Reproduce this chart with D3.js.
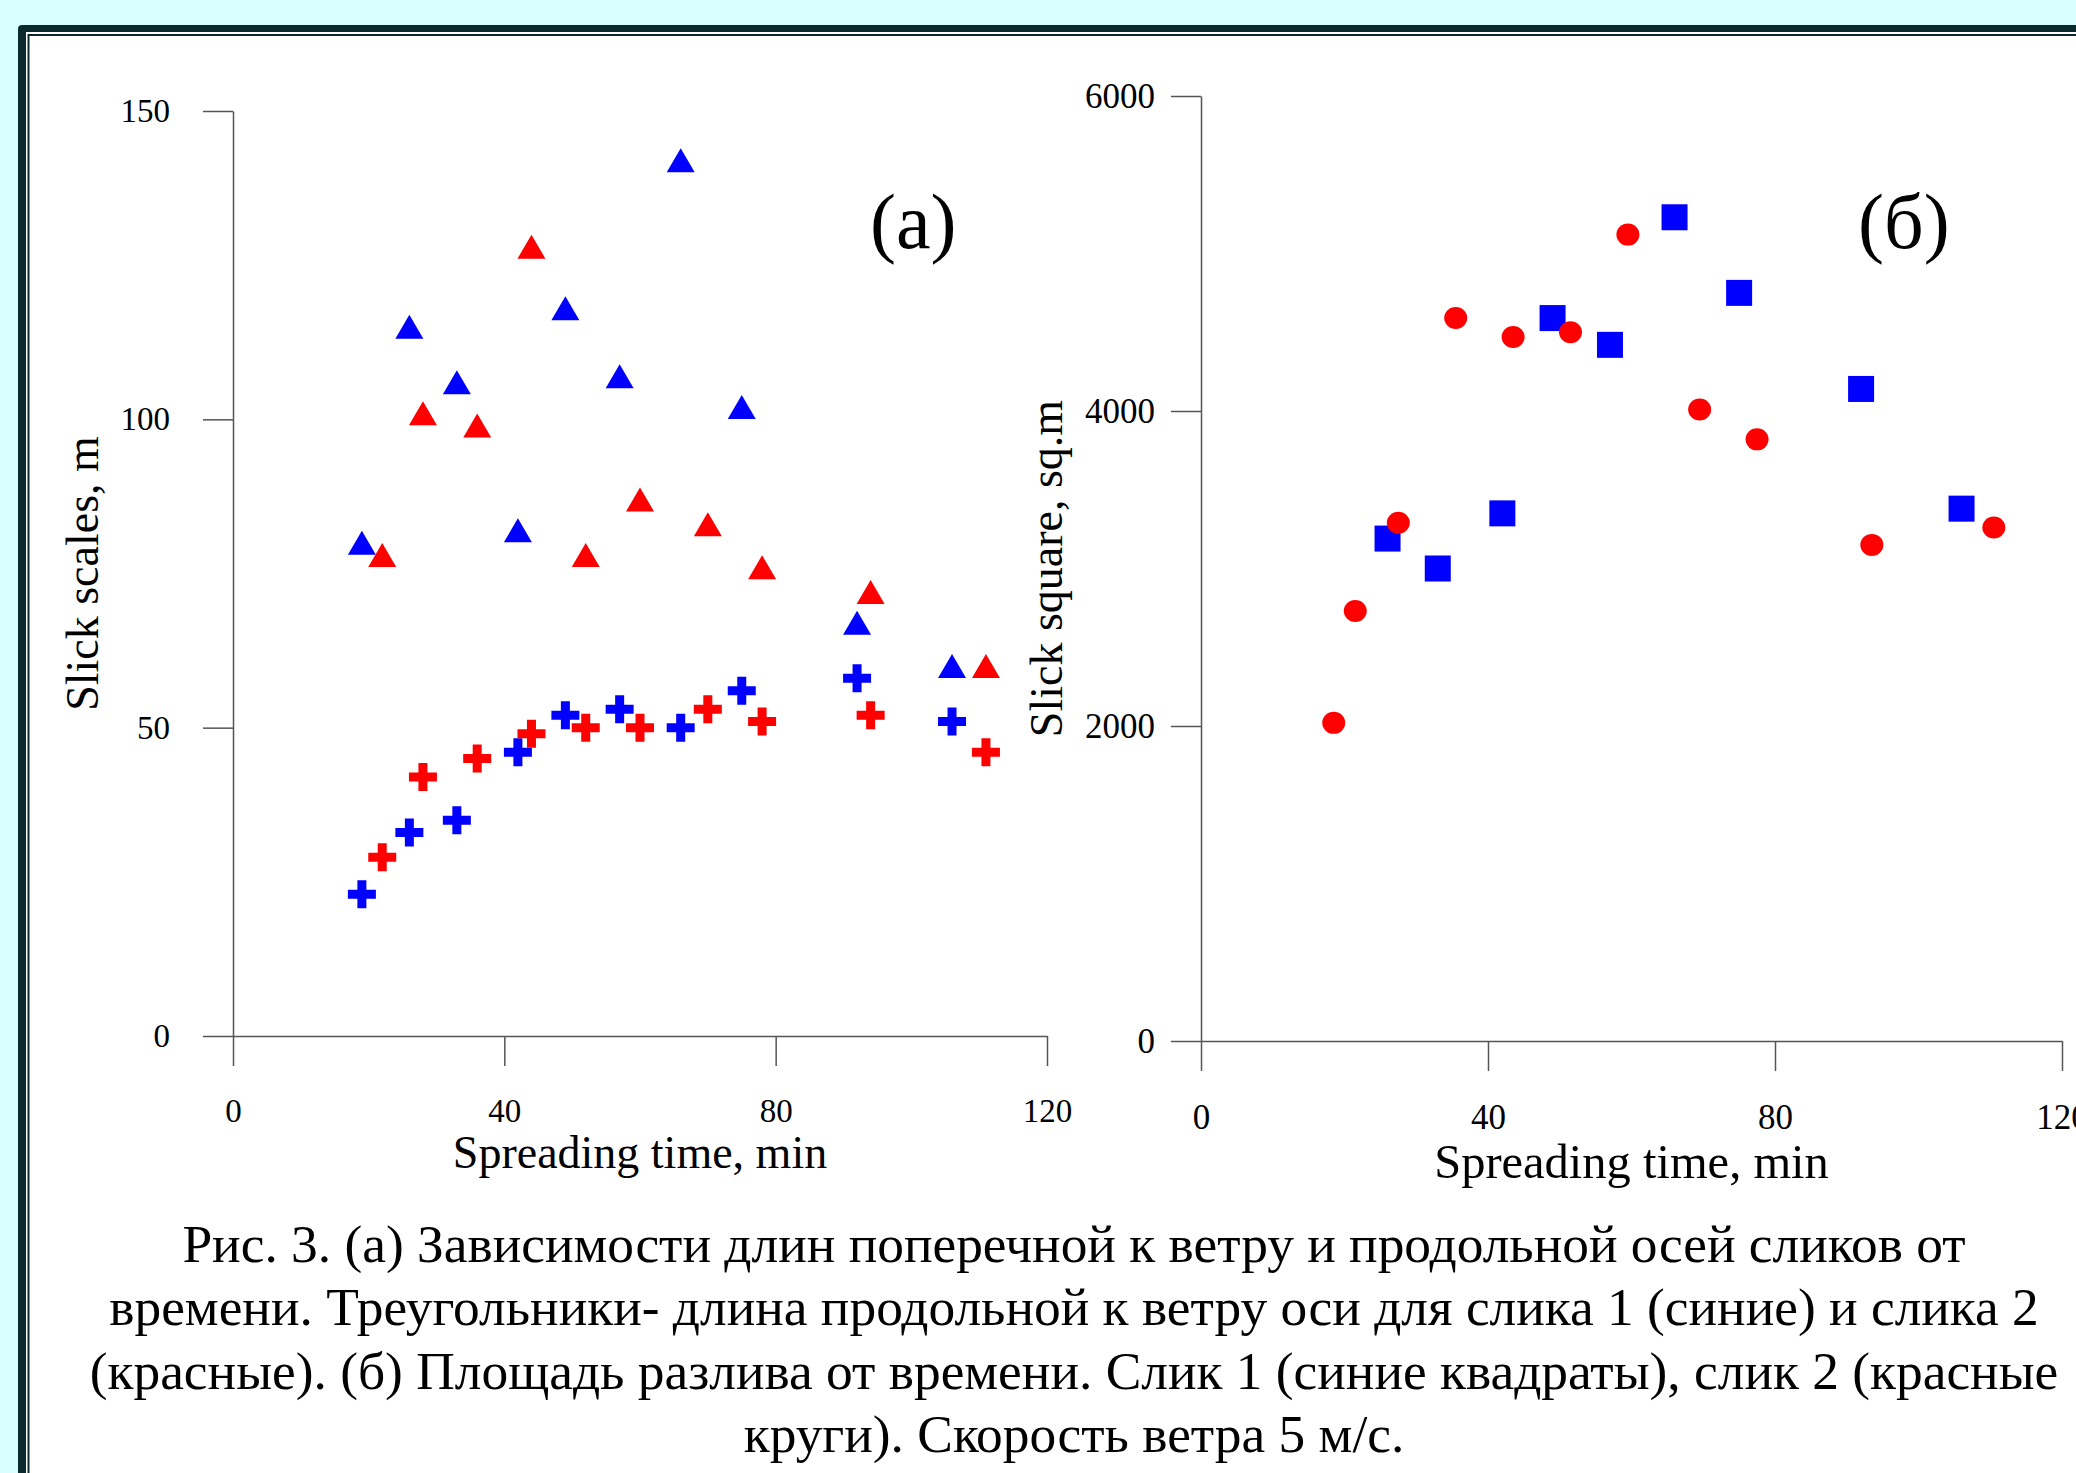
<!DOCTYPE html>
<html>
<head>
<meta charset="utf-8">
<script src="https://cdn.jsdelivr.net/npm/d3@7"></script>
<style>
  body { margin: 0; background: #d8ffff; }
  svg { display: block; }
  text { font-family: "Liberation Serif", "Times New Roman", serif; fill: #000; }
  .axis path, .axis line { stroke: #555; stroke-width: 1.5; }
</style>
</head>
<body>
<div id="chart"></div>
<script>
// Data
// (a) slick scales vs spreading time
const timeBlue = [19, 26, 33, 42, 49, 57, 66, 75, 92, 106];
const timeRed = [22, 28, 36, 44, 52, 60, 70, 78, 94, 111];
const triBlue = [80, 115, 106, 82, 118, 107, 142, 102, 67, 60];   // along-wind axis, slick 1
const triRed = [78, 101, 99, 128, 78, 87, 83, 76, 72, 60];        // along-wind axis, slick 2
const crossBlue = [23, 33, 35, 46, 52, 53, 50, 56, 58, 51];       // cross-wind axis, slick 1
const crossRed = [29, 42, 45, 49, 50, 50, 53, 51, 52, 46];        // cross-wind axis, slick 2

// (б) slick square vs spreading time
const squareTime = [26, 33, 42, 49, 57, 66, 75, 92, 106];
const squareArea = [3190, 3000, 3350, 4590, 4420, 5230, 4750, 4140, 3380];
const circleTime = [18.5, 21.5, 27.5, 35.5, 43.5, 51.5, 59.5, 69.5, 77.5, 93.5, 110.5];
const circleArea = [2020, 2730, 3290, 4590, 4470, 4500, 5120, 4010, 3820, 3150, 3260];

const xTicks = [0, 40, 80, 120];
const yTicksA = [0, 50, 100, 150];
const yTicksB = [0, 2000, 4000, 6000];

const caption = [
  "Рис. 3. (а) Зависимости длин поперечной к ветру и продольной осей сликов от",
  "времени. Треугольники- длина продольной к ветру оси для слика 1 (синие) и слика 2",
  "(красные). (б) Площадь разлива от времени. Слик 1 (синие квадраты), слик 2 (красные",
  "круги). Скорость ветра 5 м/с."
];

const width = 2076, height = 1473;
const BLUE = "#0000ff", RED = "#ff0000";

const svg = d3.select("#chart")
  .append("svg")
  .attr("width", width)
  .attr("height", height);

// Frame
svg.append("rect").attr("x", 18).attr("y", 25).attr("width", 2200).attr("height", 1600)
  .attr("rx", 4).attr("fill", "#0b2a2e");
svg.append("rect").attr("x", 26).attr("y", 32).attr("width", 2200).attr("height", 1600)
  .attr("fill", "#fff");
svg.append("rect").attr("x", 28.5).attr("y", 35).attr("width", 2200).attr("height", 1600)
  .attr("fill", "#fff").attr("stroke", "#0b2a2e").attr("stroke-width", 2);

// Scales
const xA = d3.scaleLinear().domain([0, 120]).range([233, 1047]);
const yA = d3.scaleLinear().domain([0, 150]).range([1036, 111]);
const xB = d3.scaleLinear().domain([0, 120]).range([1201, 2062]);
const yB = d3.scaleLinear().domain([0, 6000]).range([1041, 96]);

function drawAxes(x, y, yTicks, yTitle, opt) {
  const x0 = x.range()[0], y0 = y.range()[0];
  svg.append("g")
    .attr("class", "axis")
    .attr("transform", `translate(0,${y0})`)
    .call(d3.axisBottom(x).tickValues(xTicks).tickSize(30).tickSizeOuter(0).tickPadding(33).tickFormat(d3.format("d")))
    .selectAll("text").style("font-size", opt.tickFont + "px");
  svg.append("g")
    .attr("class", "axis")
    .attr("transform", `translate(${x0},0)`)
    .call(d3.axisLeft(y).tickValues(yTicks).tickSize(30).tickSizeOuter(0).tickPadding(opt.yPad).tickFormat(d3.format("d")))
    .selectAll("text").style("font-size", opt.tickFont + "px");

  svg.append("text")
    .attr("x", (x.range()[0] + x.range()[1]) / 2)
    .attr("y", y0 + opt.xTitleOff)
    .attr("text-anchor", "middle")
    .style("font-size", opt.xTitleFont + "px")
    .text("Spreading time, min");

  const cy = (y.range()[0] + y.range()[1]) / 2;
  svg.append("text")
    .attr("transform", `translate(${x0 - opt.yTitleOff},${cy}) rotate(-90)`)
    .attr("text-anchor", "middle")
    .style("font-size", "46px")
    .text(yTitle);
}

drawAxes(xA, yA, yTicksA, "Slick scales, m",
  { tickFont: 33, yPad: 33, xTitleOff: 132, xTitleFont: 46, yTitleOff: 135 });
drawAxes(xB, yB, yTicksB, "Slick square, sq.m",
  { tickFont: 35, yPad: 16, xTitleOff: 137, xTitleFont: 48.5, yTitleOff: 139 });

// Markers
function triPath(w, h) {
  return `M0,${-h / 2}L${w / 2},${h / 2}L${-w / 2},${h / 2}Z`;
}
function crossPath(s, t) {
  const a = s / 2, b = t / 2;
  return `M${-b},${-a}H${b}V${-b}H${a}V${b}H${b}V${a}H${-b}V${b}H${-a}V${-b}H${-b}Z`;
}

function drawPoints(x, y, xs, ys, color, path) {
  svg.append("g")
    .selectAll("path")
    .data(xs.map((d, i) => [d, ys[i]]))
    .join("path")
    .attr("transform", d => `translate(${x(d[0])},${y(d[1])})`)
    .attr("d", path)
    .attr("fill", color);
}

drawPoints(xA, yA, timeBlue, triBlue, BLUE, triPath(28, 24));
drawPoints(xA, yA, timeRed, triRed, RED, triPath(28, 24));
drawPoints(xA, yA, timeBlue, crossBlue, BLUE, crossPath(28, 9));
drawPoints(xA, yA, timeRed, crossRed, RED, crossPath(28, 9));

// (б) squares and circles
svg.append("g")
  .selectAll("rect")
  .data(squareTime.map((d, i) => [d, squareArea[i]]))
  .join("rect")
  .attr("x", d => xB(d[0]) - 13)
  .attr("y", d => yB(d[1]) - 13)
  .attr("width", 26)
  .attr("height", 26)
  .attr("fill", BLUE);

svg.append("g")
  .selectAll("ellipse")
  .data(circleTime.map((d, i) => [d, circleArea[i]]))
  .join("ellipse")
  .attr("cx", d => xB(d[0]))
  .attr("cy", d => yB(d[1]))
  .attr("rx", 11.5)
  .attr("ry", 11)
  .attr("fill", RED);

// Panel labels
svg.append("text").attr("x", 870).attr("y", 248).style("font-size", "78px").text("(a)");
svg.append("text").attr("x", 1858).attr("y", 248).style("font-size", "78px").text("(б)");

// Caption
svg.append("g")
  .selectAll("text")
  .data(caption)
  .join("text")
  .attr("x", 1074)
  .attr("y", (d, i) => 1262 + i * 63.3)
  .attr("text-anchor", "middle")
  .style("font-size", "53.4px")
  .text(d => d);
</script>
</body>
</html>
